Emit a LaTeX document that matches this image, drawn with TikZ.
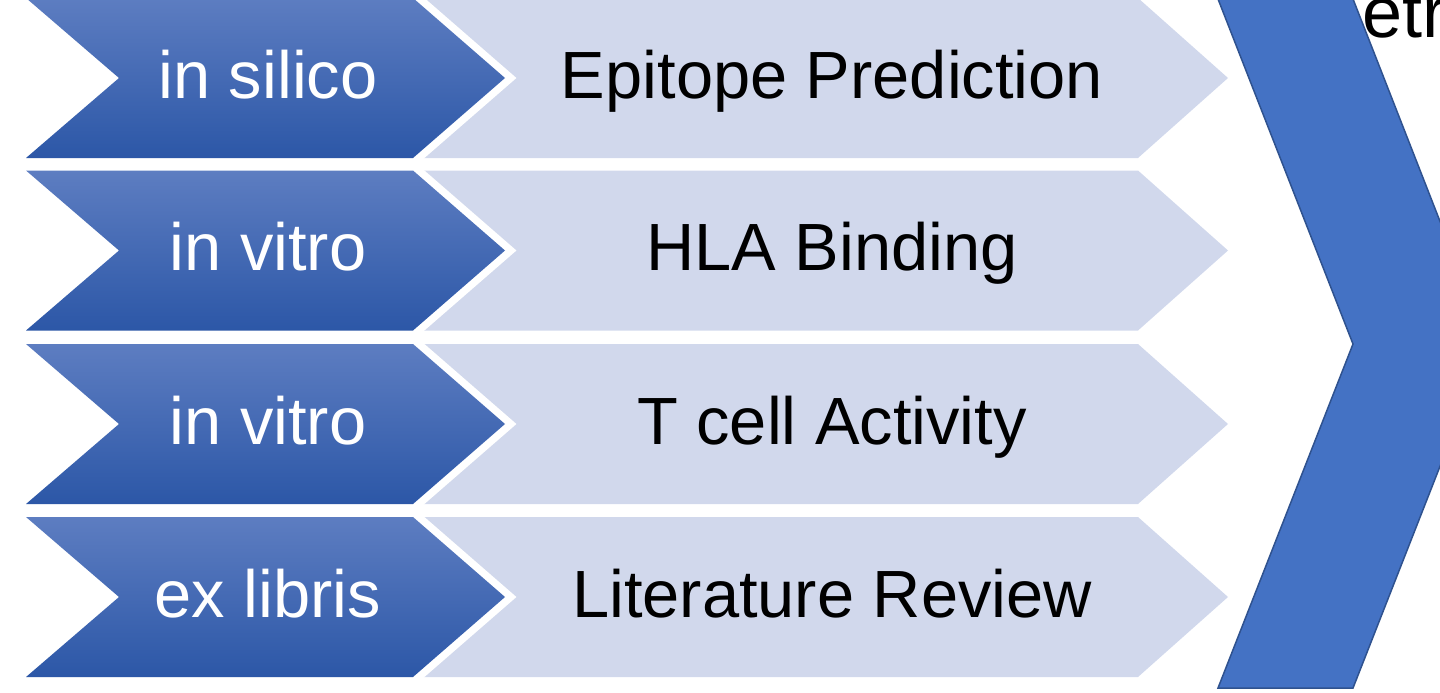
\documentclass[tikz,border=0pt]{standalone}
\usepackage{fontspec}
\setmainfont{Liberation Sans}
\begin{document}
\begin{tikzpicture}[x=1pt,y=-1pt,
  stagelabel/.style={text=white,anchor=base,font=\fontsize{66.8}{80}\selectfont},
  steplabel/.style={text=black,anchor=base,font=\fontsize{66.8}{80}\selectfont},
  darkchev/.style={preaction={draw=white,line width=15pt,line join=miter},
    top color={rgb,255:red,93;green,125;blue,193},
    middle color={rgb,255:red,56;green,100;blue,182},
    bottom color={rgb,255:red,44;green,87;blue,167}},
  lightchev/.style={fill={rgb,255:red,209;green,216;blue,236}}
]
\useasboundingbox (0,0) rectangle (1440,693);

% the four stages: light step chevron behind, dark method chevron in front
\foreach \cy/\meth/\stp [count=\i] in {78/in silico/Epitope Prediction,
                                      250.5/in vitro/HLA Binding,
                                      424/in vitro/T cell Activity,
                                      597/ex libris/Literature Review}{
  \fill[lightchev] (300,\cy-80) -- (1138,\cy-80) -- (1228,\cy) -- (1138,\cy+80)
                   -- (300,\cy+80) -- cycle;
  \path[darkchev] (26,\cy-80) -- (413,\cy-80) -- (505,\cy) -- (413,\cy+80)
                  -- (26,\cy+80) -- (119,\cy) -- cycle;
  \node[stagelabel] (m\i) at (268,\cy+20.3) {\meth};
  \node[steplabel]  (s\i) at (832,\cy+20.3) {\stp};
}

% large chevron on the right
\draw[fill={rgb,255:red,68;green,114;blue,196},draw={rgb,255:red,47;green,82;blue,143},line width=1.5pt]
  (1218,-1) -- (1353,-1) -- (1488,344) -- (1353,688) -- (1218,688) -- (1353,344) -- cycle;

\node[text=black,anchor=base west,inner sep=0pt,font=\fontsize{72}{86}\selectfont] (t) at (1362,38) {etr};
\end{tikzpicture}
\end{document}
